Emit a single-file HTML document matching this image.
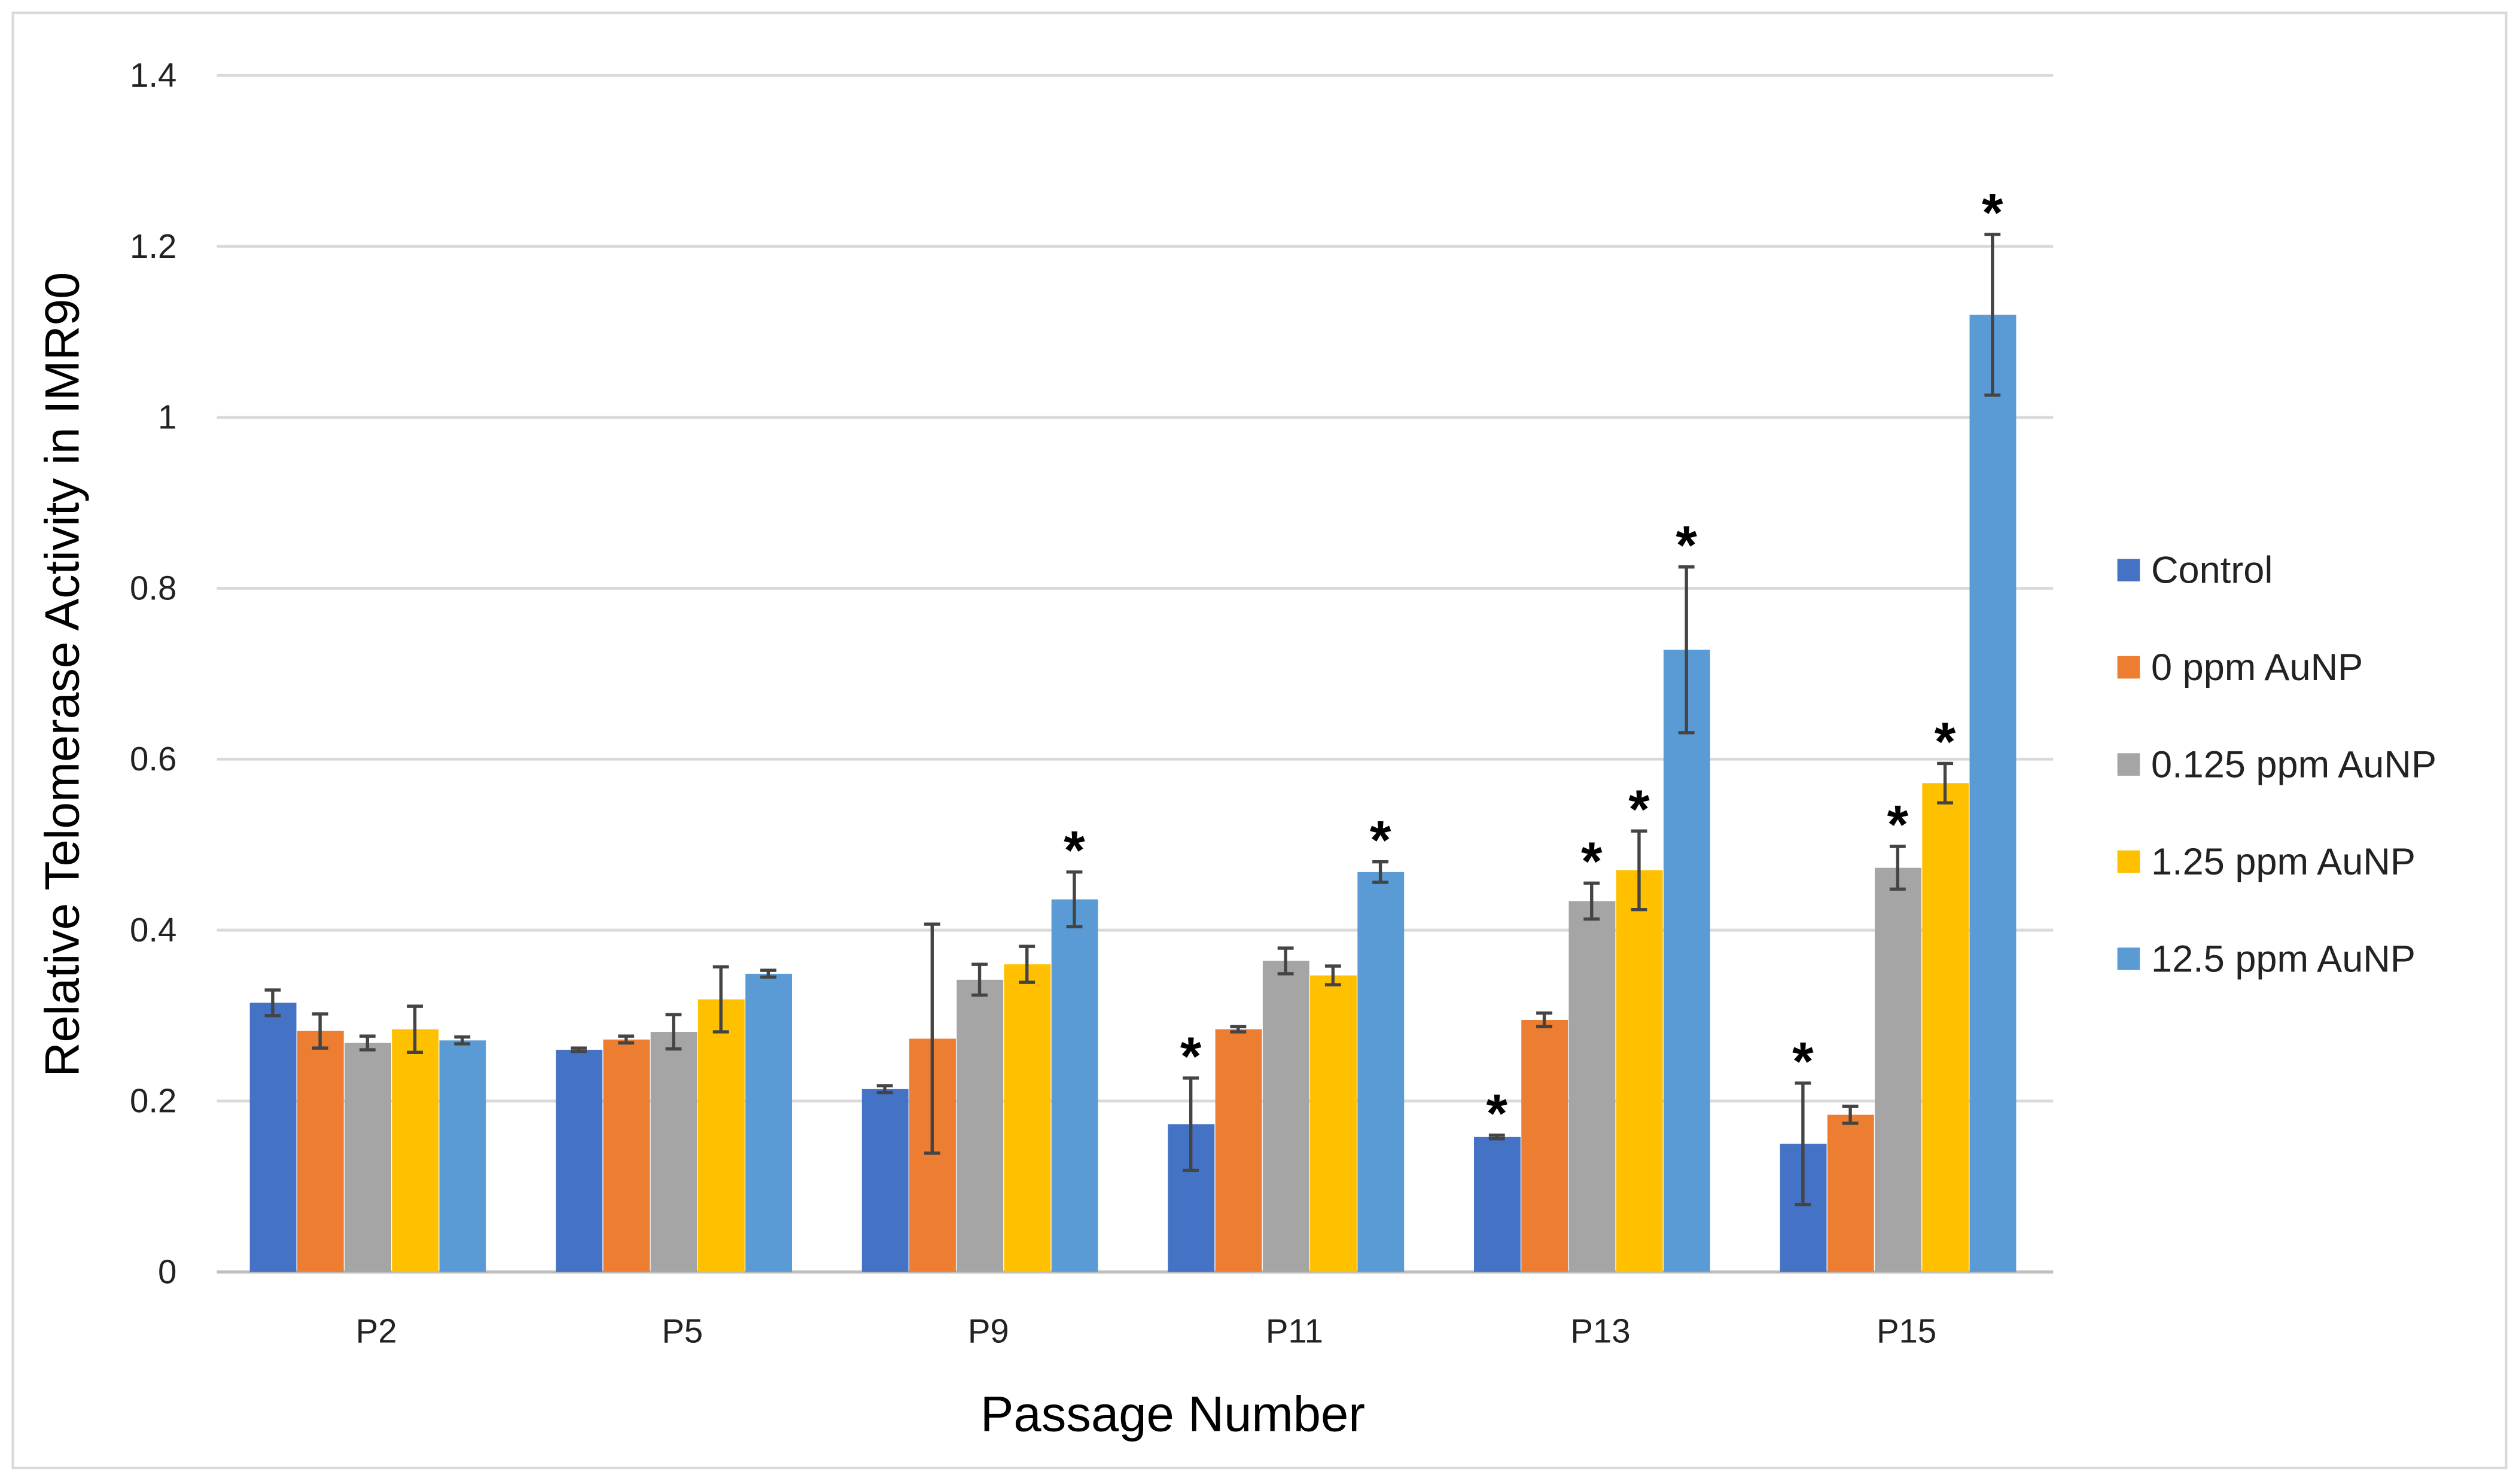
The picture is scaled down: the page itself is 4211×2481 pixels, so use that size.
<!DOCTYPE html>
<html><head><meta charset="utf-8"><style>
html,body{margin:0;padding:0;background:#fff;}
svg{display:block;font-family:"Liberation Sans",sans-serif;}
</style></head><body>
<svg id="chart" width="4211" height="2481" viewBox="0 0 1568 924" preserveAspectRatio="none" xmlns="http://www.w3.org/2000/svg">
<rect x="8" y="8" width="1552" height="906" fill="#fff" stroke="#d9d9d9" stroke-width="1.5"/>
<g id="grid"></g><g id="bars"></g><g id="errs"></g><g id="axes"></g><g id="legend"></g>
<text transform="translate(49,420) rotate(-90)" text-anchor="middle" font-size="30" fill="#000">Relative Telomerase Activity in IMR90</text>
<text x="730" y="891" text-anchor="middle" font-size="31" fill="#000">Passage Number</text>
</svg>
<script>
const categories=["P2","P5","P9","P11","P13","P15"];
const seriesNames=["Control","0 ppm AuNP","0.125 ppm AuNP","1.25 ppm AuNP","12.5 ppm AuNP"];
const control=[0.315,0.260,0.214,0.173,0.158,0.150];
const ppm0=[0.282,0.272,0.273,0.284,0.295,0.184];
const ppm0125=[0.268,0.281,0.342,0.364,0.434,0.473];
const ppm125=[0.284,0.319,0.360,0.347,0.470,0.572];
const ppm125b=[0.271,0.349,0.436,0.468,0.728,1.120];
const errControl=[0.015,0.002,0.004,0.054,0.002,0.071];
const err0=[0.020,0.004,0.134,0.003,0.008,0.010];
const err0125=[0.008,0.020,0.018,0.015,0.021,0.025];
const err125=[0.027,0.038,0.021,0.011,0.046,0.023];
const err125b=[0.004,0.004,0.032,0.012,0.097,0.094];
const sigControl=[0,0,0,1,1,1];
const sig0=[0,0,0,0,0,0];
const sig0125=[0,0,0,0,1,1];
const sig125=[0,0,0,0,1,1];
const sig125b=[0,0,1,1,1,1];
const yTicks=[0,0.2,0.4,0.6,0.8,1,1.2,1.4];

const colors=["#4472C4","#ED7D31","#A5A5A5","#FFC000","#5B9BD5"];
const values=[control,ppm0,ppm0125,ppm125,ppm125b];
const errs=[errControl,err0,err0125,err125,err125b];
const sigs=[sigControl,sig0,sig0125,sig125,sig125b];
const NS="http://www.w3.org/2000/svg";
const X0=135,X1=1278,Y0=792,Y1=47;
const y=v=>Y0-(v/1.4)*(Y0-Y1);
const gw=(X1-X0)/categories.length, bw=29.5;
const cx=i=>X0+gw*(i+0.5);
function mk(tag,attrs,parent){const e=document.createElementNS(NS,tag);for(const k in attrs)e.setAttribute(k,attrs[k]);document.getElementById(parent).appendChild(e);return e;}
yTicks.forEach(t=>{
  const l=mk("line",{x1:X0,x2:X1,y1:y(t),y2:y(t),stroke:t===0?"#bfbfbf":"#d9d9d9","stroke-width":t===0?2:1.8},"grid");
  
  
  const tx=mk("text",{x:110,y:y(t)+7,"text-anchor":"end","font-size":21,fill:"#222"},"axes");
  tx.textContent=String(t);
  
  
});
categories.forEach((c,i)=>{
  const tx=mk("text",{x:cx(i)+4,y:836,"text-anchor":"middle","font-size":21,fill:"#222"},"axes");
  tx.textContent=c;
  
  
  values.forEach((s,j)=>{
    const bx=cx(i)+(j-2.5)*bw-1.5, v=s[i];
    const r=mk("rect",{x:bx+0.5,y:y(v),width:bw-0.5,height:Y0-y(v),fill:colors[j]},"bars");
    
    
    const mx=bx+bw/2, e=errs[j][i];
    const g=mk("path",{d:`M${mx},${y(v+e)}V${y(v-e)}M${mx-5},${y(v+e)}H${mx+5}M${mx-5},${y(v-e)}H${mx+5}`,stroke:"#444","stroke-width":2,fill:"none"},"errs");
    
    
    if(sigs[j][i]){
      const st=mk("text",{x:mx,y:y(v+e)-2,"text-anchor":"middle","font-size":34,"font-weight":"bold",fill:"#000"},"errs");
      st.textContent="*";
      
      
    }
  });
});
seriesNames.forEach((n,j)=>{
  const ly=355+j*60.5;
  const r=mk("rect",{x:1318,y:ly-7,width:14,height:14,fill:colors[j]},"legend");
  
  
  const t=mk("text",{x:1339,y:ly+8,"font-size":23.5,fill:"#222"},"legend");
  t.textContent=n;
  
  
});
</script>
</body></html>
